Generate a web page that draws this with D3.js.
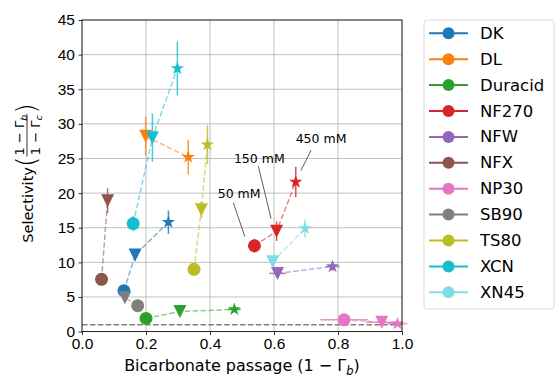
<!DOCTYPE html>
<html>
<head>
<meta charset="UTF-8">
<script src="https://cdn.jsdelivr.net/npm/d3@7"></script>
<style>
body{margin:0;background:#fff;}
svg{font-family:"DejaVu Sans",sans-serif;display:block;}
.grid line{stroke:#b0b0b0;stroke-width:0.8;}
.tick text{font-size:15.5px;fill:#000;}
</style>
</head>
<body>
<div id="root"></div>
<script>
// membranes and their colours (legend order)
const membranes = ["DK","DL","Duracid","NF270","NFW","NFX","NP30","SB90","TS80","XCN","XN45"]
const colors = ["#1f77b4","#ff7f0e","#2ca02c","#d62728","#9467bd","#8c564b","#e377c2","#7f7f7f","#bcbd22","#17becf","#80dce6"]
const concentrations = ["50 mM","150 mM","450 mM"]

// bicarbonate passage (x) per concentration, null = not measured
const passage50  = [0.131, null, 0.200, 0.539, null, 0.061, 0.819, 0.174, 0.350, 0.160, null]
const passage150 = [0.166, 0.199, 0.306, 0.608, 0.611, 0.080, 0.937, 0.134, 0.373, 0.220, 0.596]
const passage450 = [0.270, 0.332, 0.476, 0.668, 0.783, null, 0.986, null, 0.392, 0.298, 0.697]
// selectivity (y)
const select50  = [5.9, null, 1.9, 12.4, null, 7.55, 1.7, 3.75, 9.0, 15.6, null]
const select150 = [11.05, 28.2, 2.9, 14.5, 8.4, 18.9, 1.35, 4.9, 17.6, 28.0, 10.1]
const select450 = [15.8, 25.2, 3.2, 21.6, 9.4, null, 1.15, null, 27.0, 38.0, 14.9]
// error bars
const yerr50  = [0.4, 0, 0.3, 1.0, 0, 0.4, 0.2, 0.3, 0.4, 1.1, 0]
const yerr150 = [0.8, 2.8, 0.4, 1.4, 0.5, 1.8, 0.2, 0.4, 1.2, 3.5, 0.5]
const yerr450 = [1.7, 2.5, 0.4, 2.2, 0.6, 0, 0.2, 0, 2.8, 3.9, 1.3]
const xerr50  = [0, 0, 0, 0, 0, 0, 0.074, 0, 0, 0, 0]
const xerr150 = [0, 0, 0, 0, 0.026, 0, 0.05, 0, 0, 0, 0]
const xerr450 = [0, 0, 0.02, 0, 0.022, 0, 0.03, 0, 0, 0, 0]

const xTicks = [0, 0.2, 0.4, 0.6, 0.8, 1.0]
const yTicks = [0, 5, 10, 15, 20, 25, 30, 35, 40, 45]

// annotations: label, text position, line start, line end (data coords)
const notes = [
  {text:"50 mM",  tx:0.491, ty:19.9, x1:0.473, y1:18.6, x2:0.509, y2:13.7},
  {text:"150 mM", tx:0.554, ty:25.0, x1:0.551, y1:23.9, x2:0.591, y2:16.3},
  {text:"450 mM", tx:0.747, ty:27.9, x1:0.716, y1:26.2, x2:0.684, y2:23.25}
]

const width = 555, height = 377
const margin = {left:82, top:20}
const axisWidth = 320, axisHeight = 311.6
const ms = 13

const svg = d3.select("#root").append("svg").attr("width", width).attr("height", height)
const g = svg.append("g").attr("transform", `translate(${margin.left},${margin.top})`)

const xScale = d3.scaleLinear().domain([0, 1]).range([0, axisWidth])
const yScale = d3.scaleLinear().domain([0, 45]).range([axisHeight, 0])

// grid
g.append("g").attr("class","grid").selectAll("line").data(xTicks).enter().append("line")
  .attr("x1", d => xScale(d)).attr("x2", d => xScale(d)).attr("y1", 0).attr("y2", axisHeight)
g.append("g").attr("class","grid").selectAll("line").data(yTicks).enter().append("line")
  .attr("y1", d => yScale(d)).attr("y2", d => yScale(d)).attr("x1", 0).attr("x2", axisWidth)

// reference line at selectivity 1
g.append("line").attr("x1", 0).attr("x2", axisWidth).attr("y1", yScale(1)).attr("y2", yScale(1))
  .attr("stroke", "#808080").attr("stroke-width", 1.5).attr("stroke-dasharray", "5.5,2.4")

const starPath = (R) => {
  const r = R * 0.381966, p = []
  for (let i = 0; i < 10; i++) {
    const a = -Math.PI / 2 + i * Math.PI / 5, rad = i % 2 ? r : R
    p.push([rad * Math.cos(a), rad * Math.sin(a)])
  }
  return "M" + p.map(q => q.join(",")).join("L") + "Z"
}
const markerPath = (k) => {
  const h = ms / 2
  if (k === 0) return d3.symbol(d3.symbolCircle, Math.PI * h * h)()
  if (k === 1) return `M0,${h}L${-h},${-h}L${h},${-h}Z`
  return starPath(h + 0.5)
}

const passage = [passage50, passage150, passage450]
const select = [select50, select150, select450]
const yerr = [yerr50, yerr150, yerr450]
const xerr = [xerr50, xerr150, xerr450]

membranes.forEach((m, i) => {
  const pts = [0, 1, 2].map(k => ({k, x: passage[k][i], y: select[k][i], ye: yerr[k][i], xe: xerr[k][i]}))
    .filter(d => d.x !== null)
  const layer = g.append("g")
  const line = d3.line().x(d => xScale(d.x)).y(d => yScale(d.y))
  layer.append("path").attr("d", line(pts)).attr("fill", "none")
    .attr("stroke", colors[i]).attr("stroke-opacity", 0.55).attr("stroke-width", 1.5)
    .attr("stroke-dasharray", "5.5,2.4")
  pts.forEach(d => {
    if (d.ye > 0) layer.append("line").attr("x1", xScale(d.x)).attr("x2", xScale(d.x))
      .attr("y1", yScale(d.y - d.ye)).attr("y2", yScale(d.y + d.ye))
      .attr("stroke", colors[i]).attr("stroke-opacity", 0.8).attr("stroke-width", 1.5)
    if (d.xe > 0) layer.append("line").attr("y1", yScale(d.y)).attr("y2", yScale(d.y))
      .attr("x1", xScale(d.x - d.xe)).attr("x2", xScale(d.x + d.xe))
      .attr("stroke", colors[i]).attr("stroke-opacity", 0.8).attr("stroke-width", 1.5)
  })
  layer.selectAll("path.mk").data(pts).enter().append("path").attr("class", "mk")
    .attr("d", d => markerPath(d.k))
    .attr("transform", d => `translate(${xScale(d.x)},${yScale(d.y)})`)
    .attr("fill", colors[i])
})

// annotations
notes.forEach(n => {
  g.append("line").attr("x1", xScale(n.x1)).attr("y1", yScale(n.y1))
    .attr("x2", xScale(n.x2)).attr("y2", yScale(n.y2)).attr("stroke", "#333").attr("stroke-width", 0.8)
  g.append("text").attr("x", xScale(n.tx)).attr("y", yScale(n.ty)).attr("text-anchor", "middle")
    .attr("dominant-baseline", "central").attr("font-size", 12.5).text(n.text)
})

// axes
const xAxis = d3.axisBottom(xScale).tickValues(xTicks).tickFormat(d3.format(".1f")).tickSize(3.5).tickPadding(3)
const yAxis = d3.axisLeft(yScale).tickValues(yTicks).tickSize(3.5).tickPadding(3.5)
g.append("g").attr("transform", `translate(0,${axisHeight})`).call(xAxis).call(s => s.select(".domain").remove())
g.append("g").call(yAxis).call(s => s.select(".domain").remove())
g.selectAll(".tick line").attr("stroke", "#000").attr("stroke-width", 0.8)
g.append("rect").attr("width", axisWidth).attr("height", axisHeight).attr("fill", "none")
  .attr("stroke", "#000").attr("stroke-width", 0.8)

// x label
const xl = svg.append("text").attr("x", margin.left + axisWidth / 2).attr("y", 371)
  .attr("text-anchor", "middle").attr("font-size", 16)
xl.append("tspan").text("Bicarbonate passage (1 \u2212 \u0393")
xl.append("tspan").attr("font-size", 11.5).attr("font-style", "italic").attr("dy", 3.5).text("b")
xl.append("tspan").attr("dy", -3.5).text(")")

// y label with fraction
const yl = svg.append("g").attr("transform", `translate(27,173) rotate(-90)`)
const t1 = yl.append("text").attr("y", 6).attr("font-size", 14.5).text("Selectivity ")
const p1 = yl.append("text").attr("y", 8).attr("font-size", 27).attr("font-weight", 200).text("(")
const num = yl.append("text").attr("y", -3).attr("font-size", 13).attr("text-anchor", "middle")
num.append("tspan").text("1 \u2212 \u0393")
num.append("tspan").attr("font-size", 9.5).attr("font-style", "italic").attr("dy", 2.5).text("b")
const den = yl.append("text").attr("y", 12.5).attr("font-size", 13).attr("text-anchor", "middle")
den.append("tspan").text("1 \u2212 \u0393")
den.append("tspan").attr("font-size", 9.5).attr("font-style", "italic").attr("dy", 2.5).text("c")
const p2 = yl.append("text").attr("y", 8).attr("font-size", 27).attr("font-weight", 200).text(")")
const w1 = t1.node().getComputedTextLength(), wp = p1.node().getComputedTextLength()
const wf = Math.max(num.node().getComputedTextLength(), den.node().getComputedTextLength()) + 2
const total = w1 + wp * 2 + wf
let cx = -total / 2
t1.attr("x", cx); cx += w1
p1.attr("x", cx); cx += wp
num.attr("x", cx + wf / 2); den.attr("x", cx + wf / 2)
yl.append("line").attr("x1", cx).attr("x2", cx + wf).attr("y1", 0).attr("y2", 0).attr("stroke", "#000").attr("stroke-width", 0.8)
cx += wf
p2.attr("x", cx)

// legend
const leg = svg.append("g")
leg.append("rect").attr("x", 424).attr("y", 20).attr("width", 130).attr("height", 289).attr("rx", 3)
  .attr("fill", "#fff").attr("fill-opacity", 0.8).attr("stroke", "#d0d0d0").attr("stroke-width", 0.8)
membranes.forEach((m, i) => {
  const y = 33.3 + i * 25.9
  leg.append("line").attr("x1", 429).attr("x2", 468).attr("y1", y).attr("y2", y)
    .attr("stroke", colors[i]).attr("stroke-width", 2)
  leg.append("circle").attr("cx", 448.5).attr("cy", y).attr("r", 6).attr("fill", colors[i])
  leg.append("text").attr("x", 480).attr("y", y).attr("dominant-baseline", "central")
    .attr("font-size", 16.5).text(m)
})
</script>
</body>
</html>
